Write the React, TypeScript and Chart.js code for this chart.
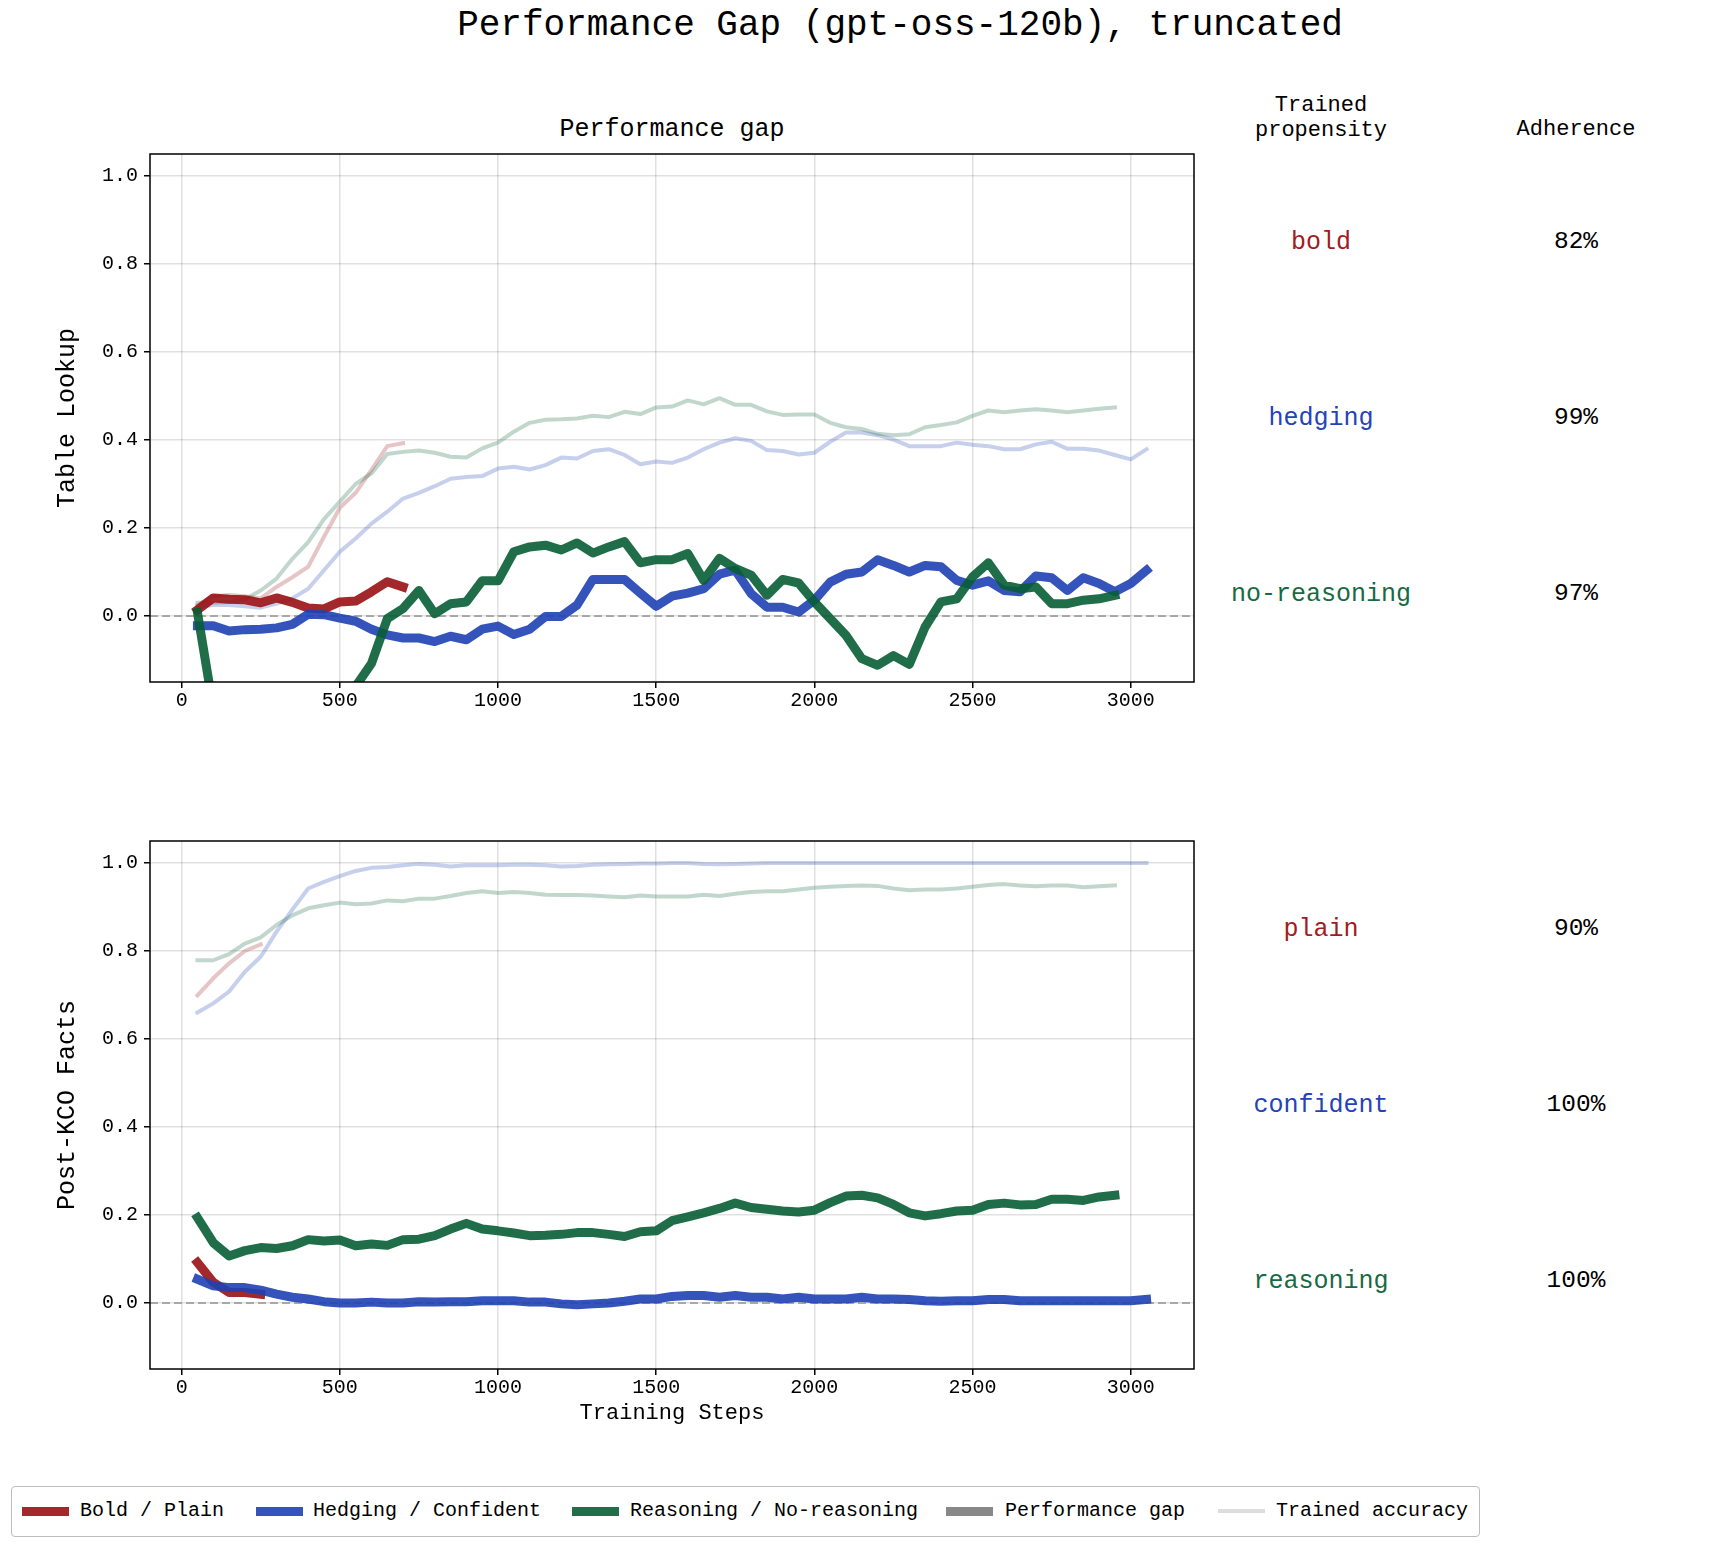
import React, { useEffect, useRef } from 'react';
import { Chart, registerables } from 'chart.js';

Chart.register(...registerables);

const FONT = '"Liberation Mono", "DejaVu Sans Mono", monospace';

// training steps (x values)
const STEPS = [
    50, 100, 150, 200, 250, 300, 350, 400, 450, 500,
    550, 600, 650, 700, 750, 800, 850, 900, 950, 1000,
    1050, 1100, 1150, 1200, 1250, 1300, 1350, 1400, 1450, 1500,
    1550, 1600, 1650, 1700, 1750, 1800, 1850, 1900, 1950, 2000,
    2050, 2100, 2150, 2200, 2250, 2300, 2350, 2400, 2450, 2500,
    2550, 2600, 2650, 2700, 2750, 2800, 2850, 2900, 2950, 3000,
    3050,
];
const X_TICKS = [0, 500, 1000, 1500, 2000, 2500, 3000];
const Y_TICKS = [0, 0.2, 0.4, 0.6, 0.8, 1.0];

// Table Lookup
const TABLE_BOLD_GAP = [0.014, 0.041, 0.038, 0.037, 0.030, 0.041, 0.031, 0.018, 0.016, 0.032, 0.034, 0.055, 0.078, 0.066];
const TABLE_BOLD_ACC = [0.025, 0.045, 0.048, 0.045, 0.040, 0.066, 0.088, 0.112, 0.180, 0.246, 0.280, 0.332, 0.386, 0.393];
const TABLE_HEDGING_GAP = [
    -0.022, -0.022, -0.034, -0.031, -0.030, -0.027, -0.019, 0.004, 0.003, -0.005,
    -0.012, -0.030, -0.043, -0.050, -0.050, -0.058, -0.046, -0.054, -0.030, -0.023,
    -0.042, -0.030, -0.001, -0.001, 0.025, 0.083, 0.083, 0.083, 0.052, 0.022,
    0.045, 0.052, 0.062, 0.095, 0.104, 0.051, 0.020, 0.020, 0.009, 0.036,
    0.077, 0.095, 0.100, 0.128, 0.115, 0.100, 0.115, 0.112, 0.081, 0.070,
    0.080, 0.058, 0.055, 0.091, 0.087, 0.058, 0.087, 0.074, 0.055, 0.074,
    0.104,
];
const TABLE_HEDGING_ACC = [
    0.020, 0.025, 0.025, 0.022, 0.019, 0.028, 0.040, 0.062, 0.104, 0.146,
    0.176, 0.210, 0.237, 0.267, 0.280, 0.295, 0.312, 0.316, 0.318, 0.335,
    0.339, 0.333, 0.343, 0.360, 0.358, 0.375, 0.379, 0.366, 0.345, 0.351,
    0.348, 0.360, 0.379, 0.394, 0.404, 0.398, 0.377, 0.375, 0.367, 0.371,
    0.396, 0.417, 0.417, 0.411, 0.401, 0.386, 0.386, 0.386, 0.394, 0.389,
    0.386, 0.379, 0.379, 0.390, 0.396, 0.380, 0.380, 0.376, 0.366, 0.356,
    0.379,
];
const TABLE_REASONING_GAP = [
    0.008, -0.210, -0.320, -0.380, -0.420, -0.450, -0.440, -0.420, -0.380, -0.300,
    -0.160, -0.108, -0.006, 0.017, 0.058, 0.005, 0.028, 0.032, 0.080, 0.080,
    0.146, 0.157, 0.161, 0.150, 0.166, 0.143, 0.157, 0.169, 0.121, 0.128,
    0.128, 0.142, 0.081, 0.131, 0.108, 0.093, 0.047, 0.083, 0.075, 0.032,
    -0.006, -0.044, -0.097, -0.112, -0.090, -0.110, -0.025, 0.032, 0.039, 0.089,
    0.121, 0.070, 0.062, 0.066, 0.028, 0.028, 0.036, 0.039, 0.047,
];
const TABLE_REASONING_ACC = [
    0.030, 0.030, 0.032, 0.038, 0.058, 0.085, 0.130, 0.168, 0.220, 0.260,
    0.300, 0.324, 0.368, 0.373, 0.376, 0.371, 0.362, 0.360, 0.381, 0.394,
    0.419, 0.439, 0.446, 0.447, 0.449, 0.455, 0.452, 0.464, 0.459, 0.474,
    0.476, 0.490, 0.481, 0.495, 0.480, 0.480, 0.465, 0.457, 0.458, 0.458,
    0.439, 0.429, 0.425, 0.414, 0.411, 0.413, 0.429, 0.434, 0.440, 0.455,
    0.467, 0.463, 0.467, 0.470, 0.467, 0.463, 0.467, 0.471, 0.474,
];

// Post-KCO Facts
const FACTS_BOLD_GAP = [0.092, 0.047, 0.024, 0.024, 0.020];
const FACTS_BOLD_ACC = [0.699, 0.738, 0.772, 0.800, 0.815];
const FACTS_HEDGING_GAP = [
    0.054, 0.039, 0.035, 0.035, 0.029, 0.020, 0.013, 0.009, 0.003, 0.000,
    0.000, 0.002, 0.000, 0.000, 0.003, 0.002, 0.003, 0.003, 0.005, 0.005,
    0.005, 0.002, 0.002, -0.002, -0.004, -0.002, 0.000, 0.004, 0.009, 0.009,
    0.015, 0.017, 0.017, 0.013, 0.017, 0.013, 0.013, 0.009, 0.013, 0.009,
    0.009, 0.009, 0.013, 0.009, 0.009, 0.008, 0.005, 0.004, 0.005, 0.005,
    0.008, 0.008, 0.005, 0.005, 0.005, 0.005, 0.005, 0.005, 0.005, 0.005,
    0.008,
];
const FACTS_HEDGING_ACC = [
    0.660, 0.681, 0.708, 0.753, 0.787, 0.844, 0.894, 0.942, 0.957, 0.970,
    0.982, 0.989, 0.991, 0.995, 0.998, 0.996, 0.992, 0.995, 0.995, 0.995,
    0.996, 0.996, 0.995, 0.992, 0.993, 0.996, 0.997, 0.998, 0.999, 0.999,
    1.000, 1.000, 0.998, 0.997, 0.998, 0.999, 1.000, 1.000, 1.000, 1.000,
    1.000, 1.000, 1.000, 1.000, 1.000, 1.000, 1.000, 1.000, 1.000, 1.000,
    1.000, 1.000, 1.000, 1.000, 1.000, 1.000, 1.000, 1.000, 1.000, 1.000,
    1.000,
];
const FACTS_REASONING_GAP = [
    0.194, 0.137, 0.107, 0.119, 0.126, 0.124, 0.130, 0.144, 0.141, 0.143,
    0.130, 0.134, 0.131, 0.144, 0.145, 0.153, 0.168, 0.181, 0.168, 0.164,
    0.159, 0.153, 0.154, 0.156, 0.160, 0.160, 0.156, 0.151, 0.162, 0.164,
    0.187, 0.196, 0.205, 0.215, 0.227, 0.217, 0.213, 0.209, 0.207, 0.211,
    0.228, 0.243, 0.245, 0.239, 0.224, 0.205, 0.198, 0.203, 0.209, 0.211,
    0.224, 0.227, 0.223, 0.224, 0.236, 0.236, 0.233, 0.241, 0.245,
];
const FACTS_REASONING_ACC = [
    0.779, 0.779, 0.793, 0.817, 0.831, 0.859, 0.881, 0.897, 0.904, 0.910,
    0.906, 0.908, 0.915, 0.913, 0.919, 0.919, 0.925, 0.932, 0.936, 0.932,
    0.934, 0.932, 0.928, 0.927, 0.927, 0.926, 0.924, 0.922, 0.926, 0.924,
    0.924, 0.924, 0.928, 0.925, 0.930, 0.934, 0.936, 0.936, 0.940, 0.944,
    0.946, 0.948, 0.949, 0.948, 0.942, 0.938, 0.940, 0.940, 0.942, 0.946,
    0.950, 0.952, 0.949, 0.947, 0.949, 0.949, 0.945, 0.947, 0.949,
];

// side table
const TABLE_PROPENSITY = ['bold', 'hedging', 'no-reasoning'];
const TABLE_ADHERENCE = ['82%', '99%', '97%'];
const FACTS_PROPENSITY = ['plain', 'confident', 'reasoning'];
const FACTS_ADHERENCE = ['90%', '100%', '100%'];

const LEGEND_LABELS = ['Bold / Plain', 'Hedging / Confident', 'Reasoning / No-reasoning', 'Performance gap', 'Trained accuracy'];

const RED_LINE = 'rgba(153, 17, 20, 0.9)';
const BLUE_LINE = 'rgba(30, 65, 180, 0.9)';
const GREEN_LINE = 'rgba(8, 94, 53, 0.9)';
const RED_LIGHT = 'rgba(163, 40, 43, 0.27)';
const BLUE_LIGHT = 'rgba(52, 84, 188, 0.28)';
const GREEN_LIGHT = 'rgba(32, 110, 74, 0.28)';
const TEXT_COLORS = ['#a11c1f', '#2443b8', '#186a44'];

const toPoints = (values: number[]) => values.map((v, i) => ({ x: STEPS[i], y: v }));

const line = (values: number[], color: string, width: number) => ({
    data: toPoints(values),
    borderColor: color,
    borderWidth: width,
    pointRadius: 0,
    tension: 0,
    borderJoinStyle: 'round' as const,
    borderCapStyle: 'square' as const,
});

// frame around the axes + dashed zero line
const framePlugin = {
    id: 'frame',
    beforeDatasetsDraw(chart: any) {
        const { ctx, chartArea: a, scales } = chart;
        const y0 = scales.y.getPixelForValue(0);
        ctx.save();
        ctx.strokeStyle = '#a8a8a8';
        ctx.lineWidth = 1.8;
        ctx.setLineDash([8, 4]);
        ctx.beginPath();
        ctx.moveTo(a.left, y0);
        ctx.lineTo(a.right, y0);
        ctx.stroke();
        ctx.restore();
    },
    afterDraw(chart: any) {
        const { ctx, chartArea: a } = chart;
        ctx.save();
        ctx.strokeStyle = '#000';
        ctx.lineWidth = 1.5;
        ctx.strokeRect(a.left, a.top, a.right - a.left, a.bottom - a.top);
        ctx.restore();
    },
};

const noPadding = (s: any) => {
    s.paddingTop = 0;
    s.paddingBottom = 0;
    s.paddingLeft = 0;
    s.paddingRight = 0;
};

interface PanelProps {
    top: number;
    height: number;
    xHeight: number;
    yTitle: string;
    xTitle?: string;
    gaps: number[][];
    accs: number[][];
}

const Panel: React.FC<PanelProps> = ({ top, height, xHeight, yTitle, xTitle, gaps, accs }) => {
    const canvasRef = useRef<HTMLCanvasElement>(null);

    useEffect(() => {
        if (!canvasRef.current) return;
        const grid = {
            color: 'rgba(0, 0, 0, 0.12)',
            lineWidth: 1.5,
            tickColor: '#000',
            tickLength: 6,
            tickWidth: 1.5,
        };
        const tickFont = { family: FONT, size: 20 };

        const chart = new Chart(canvasRef.current, {
            type: 'line',
            data: {
                datasets: [
                    // first dataset is drawn on top
                    line(gaps[2], GREEN_LINE, 9),
                    line(gaps[1], BLUE_LINE, 9),
                    line(gaps[0], RED_LINE, 9),
                    line(accs[2], GREEN_LIGHT, 4),
                    line(accs[1], BLUE_LIGHT, 4),
                    line(accs[0], RED_LIGHT, 4),
                ],
            },
            options: {
                responsive: false,
                animation: false,
                layout: { padding: { top: 10, right: 16, left: 0, bottom: 0 } },
                plugins: { legend: { display: false }, tooltip: { enabled: false } },
                scales: {
                    x: {
                        type: 'linear',
                        min: -100,
                        max: 3200,
                        afterBuildTicks: (s: any) => {
                            s.ticks = X_TICKS.map((v) => ({ value: v }));
                        },
                        afterFit: (s: any) => {
                            s.height = xHeight;
                            noPadding(s);
                        },
                        grid,
                        border: { display: false },
                        ticks: {
                            font: tickFont,
                            color: '#000',
                            padding: 1,
                            maxRotation: 0,
                            autoSkip: false,
                            callback: (v: any) => String(v),
                        },
                        title: {
                            display: !!xTitle,
                            text: xTitle || '',
                            color: '#000',
                            font: { family: FONT, size: 22 },
                            padding: { top: 0, bottom: 15 },
                        },
                    },
                    y: {
                        type: 'linear',
                        min: -0.15,
                        max: 1.05,
                        afterBuildTicks: (s: any) => {
                            s.ticks = Y_TICKS.map((v) => ({ value: v }));
                        },
                        afterFit: (s: any) => {
                            s.width = 150;
                            noPadding(s);
                        },
                        grid,
                        border: { display: false },
                        ticks: {
                            font: tickFont,
                            color: '#000',
                            padding: 6,
                            callback: (v: any) => Number(v).toFixed(1),
                        },
                        title: {
                            display: true,
                            text: yTitle,
                            color: '#000',
                            font: { family: FONT, size: 25 },
                            padding: { top: 52.6, bottom: 0 },
                        },
                    },
                },
            },
            plugins: [framePlugin],
        } as any);

        return () => {
            chart.destroy();
        };
    }, []);

    return (
        <canvas
            ref={canvasRef}
            width={1210}
            height={height}
            style={{ position: 'absolute', left: 0, top, width: 1210, height }}
        />
    );
};

const Text: React.FC<{ x: number; y: number; size: number; color?: string; children: React.ReactNode }> = ({
    x,
    y,
    size,
    color = '#000',
    children,
}) => (
    <div
        style={{
            position: 'absolute',
            left: x,
            top: y,
            transform: 'translate(-50%, -50%)',
            fontFamily: FONT,
            fontSize: size,
            lineHeight: 1,
            color,
            whiteSpace: 'nowrap',
        }}
    >
        {children}
    </div>
);

const SideTable: React.FC<{ rows: number[]; labels: string[]; values: string[] }> = ({ rows, labels, values }) => (
    <>
        {rows.map((y, i) => (
            <React.Fragment key={i}>
                <Text x={1321} y={y} size={25} color={TEXT_COLORS[i]}>
                    {labels[i]}
                </Text>
                <Text x={1576} y={y} size={24.5}>
                    {values[i]}
                </Text>
            </React.Fragment>
        ))}
    </>
);

const legendItems = [
    { color: '#a3282b', width: 9, handle: 22, text: 80 },
    { color: '#3454bc', width: 9, handle: 256, text: 313 },
    { color: '#206e4a', width: 9, handle: 572, text: 630 },
    { color: '#888888', width: 9, handle: 946, text: 1005 },
    { color: '#dddddd', width: 4, handle: 1218, text: 1276 },
];

export default function App() {
    return (
        <div
            style={{
                position: 'absolute',
                left: 0,
                top: 0,
                width: 1710,
                height: 1546,
                background: '#fff',
                overflow: 'hidden',
            }}
        >
            <Text x={900} y={26} size={36}>
                Performance Gap (gpt-oss-120b), truncated
            </Text>
            <Text x={672} y={129} size={25}>
                Performance gap
            </Text>
            <Text x={1321} y={106} size={22}>
                Trained
            </Text>
            <Text x={1321} y={131} size={22}>
                propensity
            </Text>
            <Text x={1576} y={130} size={22}>
                Adherence
            </Text>

            <Panel
                top={144}
                height={600}
                xHeight={62}
                yTitle="Table Lookup"
                gaps={[TABLE_BOLD_GAP, TABLE_HEDGING_GAP, TABLE_REASONING_GAP]}
                accs={[TABLE_BOLD_ACC, TABLE_HEDGING_ACC, TABLE_REASONING_ACC]}
            />
            <SideTable rows={[242, 418, 594]} labels={TABLE_PROPENSITY} values={TABLE_ADHERENCE} />

            <Panel
                top={831}
                height={610}
                xHeight={72}
                yTitle="Post-KCO Facts"
                xTitle="Training Steps"
                gaps={[FACTS_BOLD_GAP, FACTS_HEDGING_GAP, FACTS_REASONING_GAP]}
                accs={[FACTS_BOLD_ACC, FACTS_HEDGING_ACC, FACTS_REASONING_ACC]}
            />
            <SideTable rows={[929, 1105, 1281]} labels={FACTS_PROPENSITY} values={FACTS_ADHERENCE} />

            {/* legend */}
            <div
                style={{
                    position: 'absolute',
                    left: 11,
                    top: 1486,
                    width: 1469,
                    height: 51,
                    boxSizing: 'border-box',
                    border: '1.5px solid #bdbdbd',
                    borderRadius: 4,
                }}
            />
            {legendItems.map((item, i) => (
                <React.Fragment key={i}>
                    <div
                        style={{
                            position: 'absolute',
                            left: item.handle,
                            top: 1511 - item.width / 2,
                            width: 47,
                            height: item.width,
                            background: item.color,
                        }}
                    />
                    <div
                        style={{
                            position: 'absolute',
                            left: item.text,
                            top: 1511,
                            transform: 'translateY(-50%)',
                            fontFamily: FONT,
                            fontSize: 20,
                            lineHeight: 1,
                            whiteSpace: 'nowrap',
                            color: '#000',
                        }}
                    >
                        {LEGEND_LABELS[i]}
                    </div>
                </React.Fragment>
            ))}
        </div>
    );
}
